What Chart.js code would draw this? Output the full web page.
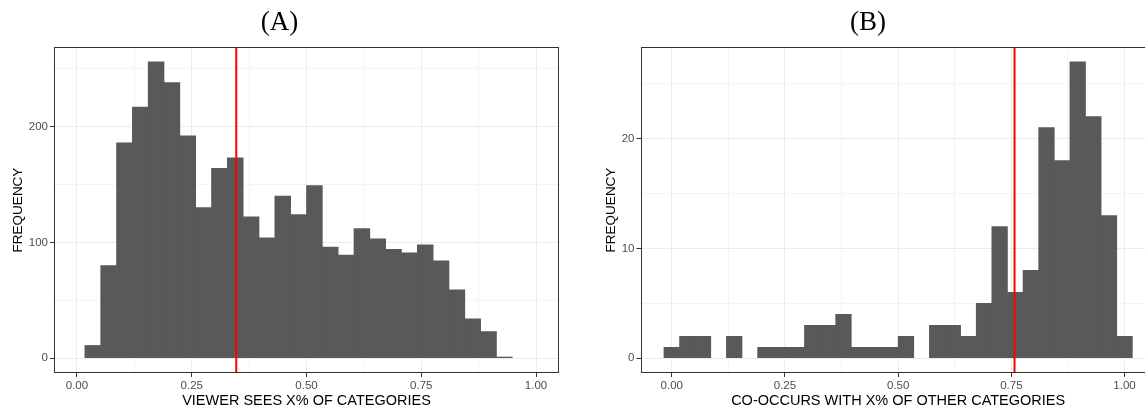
<!DOCTYPE html>
<html>
<head>
<meta charset="utf-8">
<script src="https://cdn.jsdelivr.net/npm/chart.js@4.4.1/dist/chart.umd.min.js"></script>
<style>
  html, body { margin: 0; padding: 0; background: #fff; overflow: hidden; }
  #wrap { position: relative; width: 1145px; height: 413px; overflow: hidden; background: #fff; }
  .panel { position: absolute; top: 0; }
  #pa { left: 0; }
  #pb { left: 580px; }
</style>
</head>
<body>
<div id="wrap">
  <div class="panel" id="pa"><canvas id="ca" width="569" height="413"></canvas></div>
  <div class="panel" id="pb"><canvas id="cb" width="597" height="413"></canvas></div>
</div>
<script>
// Histogram bin centres (30 bins of width 1/29), shared by both panels
const binCenters = [
  0.00000, 0.03448, 0.06897, 0.10345, 0.13793, 0.17241, 0.20690, 0.24138, 0.27586, 0.31034,
  0.34483, 0.37931, 0.41379, 0.44828, 0.48276, 0.51724, 0.55172, 0.58621, 0.62069, 0.65517,
  0.68966, 0.72414, 0.75862, 0.79310, 0.82759, 0.86207, 0.89655, 0.93103, 0.96552, 1.00000
];

// Panel A counts: share of categories a viewer sees
const viewerCounts = [
  0, 11, 80, 186, 217, 256, 238, 192, 130, 164,
  173, 122, 104, 140, 124, 149, 96, 89, 112, 103,
  94, 91, 98, 84, 59, 34, 23, 1, 0, 0
];

// Panel B counts: share of other categories a category co-occurs with
const cooccurCounts = [
  1, 2, 2, 0, 2, 0, 1, 1, 1, 3,
  3, 4, 1, 1, 1, 2, 0, 3, 3, 2,
  5, 12, 6, 8, 21, 18, 27, 22, 13, 2
];

// Reference lines (vertical)
const viewerMarker = 0.347;
const cooccurMarker = 0.757;

// Axis breaks and labels
const xBreaks = [0, 0.25, 0.5, 0.75, 1];
const xLabels = ['0.00', '0.25', '0.50', '0.75', '1.00'];
const xMinorBreaks = [0.125, 0.375, 0.625, 0.875];

const yBreaksA = [0, 100, 200];
const yMinorA = [50, 150, 250];
const yBreaksB = [0, 10, 20];
const yMinorB = [5, 15, 25];

const SANS = "'Liberation Sans', Arial, sans-serif";
const SERIF = "'Liberation Serif', 'Times New Roman', serif";
const GRID_MAJOR = '#EBEBEB';
const GRID_MINOR = '#F4F4F4';
const TICK_COLOR = '#333333';
const LABEL_COLOR = '#4D4D4D';
const BAR_COLOR = '#595959';
const LINE_COLOR = '#FF0000';

function tickList(major, minor) {
  return major.concat(minor).sort((a, b) => a - b).map(v => ({ value: v }));
}

// Frame around the plotting panel, drawn over the data
const panelFrame = {
  id: 'panelFrame',
  afterDraw(chart) {
    const { ctx, chartArea: a } = chart;
    ctx.save();
    ctx.strokeStyle = '#333333';
    ctx.lineWidth = 1;
    const l = Math.round(a.left) + 0.5, t = Math.round(a.top) + 0.5;
    const r = Math.round(a.right) - 0.5, b = Math.round(a.bottom) - 0.5;
    ctx.strokeRect(l, t, r - l, b - t);
    ctx.restore();
  }
};

function gridStyle(majors) {
  return {
    color: c => majors.includes(c.tick.value) ? GRID_MAJOR : GRID_MINOR,
    lineWidth: 1,
    drawTicks: true,
    tickLength: 4,
    tickWidth: 1,
    tickColor: c => majors.includes(c.tick.value) ? TICK_COLOR : 'rgba(0,0,0,0)',
    offset: false
  };
}

function makePanel(canvasId, cfg) {
  // empty bins are simply not drawn
  const bars = binCenters
    .map((x, i) => ({ x: x, y: cfg.counts[i] }))
    .filter(p => p.y > 0);
  return new Chart(document.getElementById(canvasId), {
    type: 'bar',
    data: {
      datasets: [
        {
          type: 'line',
          data: [{ x: cfg.marker, y: cfg.yMin }, { x: cfg.marker, y: cfg.yMax }],
          borderColor: LINE_COLOR,
          borderWidth: 2,
          pointRadius: 0,
          order: 0
        },
        {
          type: 'bar',
          data: bars,
          backgroundColor: BAR_COLOR,
          borderWidth: 0,
          barPercentage: 1,
          categoryPercentage: 1,
          order: 1
        }
      ]
    },
    options: {
      responsive: false,
      animation: false,
      events: [],
      layout: { padding: { left: 0, right: cfg.padRight, top: 0, bottom: 0 } },
      plugins: {
        legend: { display: false },
        tooltip: { enabled: false },
        title: {
          display: true,
          text: cfg.title,
          color: '#000000',
          font: { family: SERIF, size: 27, weight: 'normal' },
          padding: { top: 7, bottom: 7.6 }
        }
      },
      scales: {
        x: {
          type: 'linear',
          min: cfg.xMin,
          max: cfg.xMax,
          offset: false,
          afterBuildTicks: s => { s.ticks = tickList(xBreaks, xMinorBreaks); },
          afterFit: s => { s.height = 40; },
          border: { display: false },
          grid: gridStyle(xBreaks),
          ticks: {
            autoSkip: false,
            maxRotation: 0,
            minRotation: 0,
            padding: 2,
            color: LABEL_COLOR,
            font: { family: SANS, size: 11.5 },
            callback: v => { const i = xBreaks.indexOf(v); return i >= 0 ? xLabels[i] : ''; }
          },
          title: {
            display: true,
            text: cfg.xTitle,
            color: '#000000',
            font: { family: SANS, size: 14.5 },
            padding: { top: 0, bottom: 3 }
          }
        },
        y: {
          type: 'linear',
          min: cfg.yMin,
          max: cfg.yMax,
          afterBuildTicks: s => { s.ticks = tickList(cfg.yBreaks, cfg.yMinor); },
          afterFit: s => { s.width = cfg.yWidth; },
          border: { display: false },
          grid: gridStyle(cfg.yBreaks),
          ticks: {
            autoSkip: false,
            padding: 2,
            color: LABEL_COLOR,
            font: { family: SANS, size: 11.5 },
            callback: v => cfg.yBreaks.includes(v) ? String(v) : ''
          },
          title: {
            display: true,
            text: 'FREQUENCY',
            color: '#000000',
            font: { family: SANS, size: 13.5 },
            padding: { top: cfg.yTitlePad, bottom: 0 }
          }
        }
      }
    },
    plugins: [panelFrame]
  });
}

makePanel('ca', {
  title: '(A)',
  xTitle: 'VIEWER SEES X% OF CATEGORIES',
  counts: viewerCounts,
  marker: viewerMarker,
  xMin: -0.05, xMax: 1.05,
  yMin: -12.8, yMax: 268.8,
  yBreaks: yBreaksA, yMinor: yMinorA,
  yWidth: 54, yTitlePad: 10, padRight: 10
});

makePanel('cb', {
  title: '(B)',
  xTitle: 'CO-OCCURS WITH X% OF OTHER CATEGORIES',
  counts: cooccurCounts,
  marker: cooccurMarker,
  xMin: -0.069, xMax: 1.069,
  yMin: -1.35, yMax: 28.35,
  yBreaks: yBreaksB, yMinor: yMinorB,
  yWidth: 60.5, yTitlePad: 23, padRight: 21.2
});
</script>
</body>
</html>
